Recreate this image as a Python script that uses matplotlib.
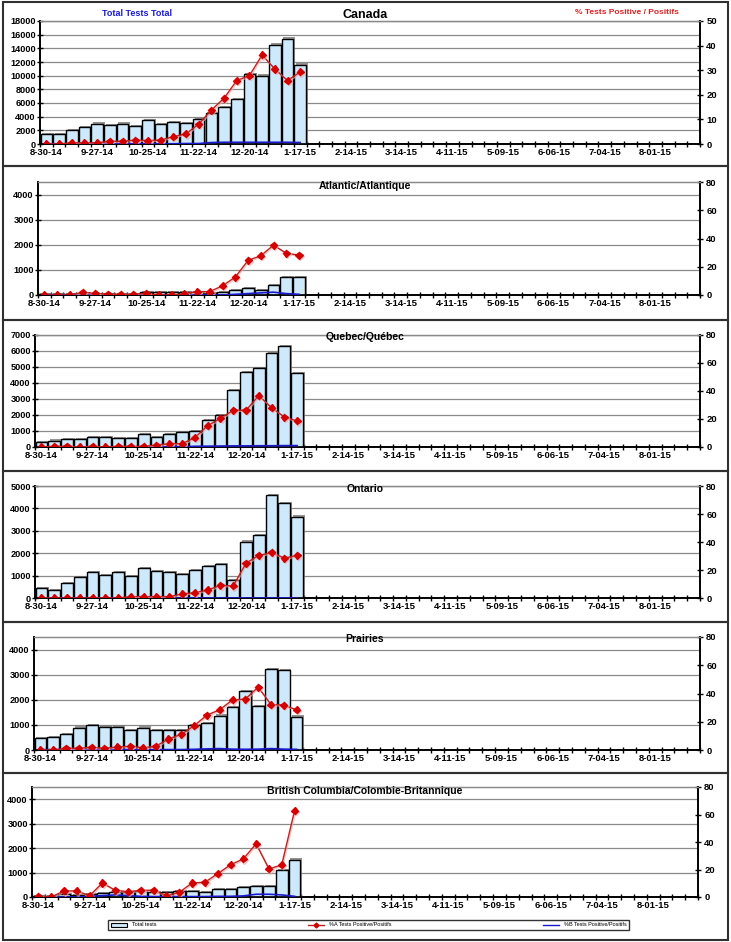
import matplotlib
matplotlib.use("Agg")
import matplotlib.pyplot as plt
import matplotlib.patheffects as pe
from matplotlib.patches import Rectangle, Patch
from matplotlib.lines import Line2D
import numpy as np

plt.rcParams['font.family'] = ['Liberation Sans', 'DejaVu Sans']
plt.rcParams['font.weight'] = 'bold'

# weekly categories, 8-30-14 .. 8-22-15 (52 weeks), labels every 4 weeks
n_weeks = 52
tick_labels = ['8-30-14', '9-27-14', '10-25-14', '11-22-14', '12-20-14', '1-17-15',
               '2-14-15', '3-14-15', '4-11-15', '5-09-15', '6-06-15', '7-04-15', '8-01-15']

regions = ['Canada', 'Atlantic/Atlantique', 'Quebec/Québec', 'Ontario', 'Prairies',
           'British Columbia/Colombie-Britannique']

# total tests (first 21 weeks reported)
canada_tests = [1400, 1400, 2000, 2480, 3000, 2820, 3000, 2680, 3450, 2920, 3160,
                3110, 3650, 4480, 5350, 6570, 10220, 10020, 14550, 15430, 11630]
atlantic_tests = [20, 20, 25, 40, 40, 40, 40, 50, 100, 100, 100,
                  110, 110, 90, 130, 180, 280, 180, 400, 700, 700]
quebec_tests = [330, 400, 520, 520, 625, 625, 583, 583, 790, 625, 833,
                940, 980, 1710, 2000, 3560, 4710, 4920, 5875, 6333, 4600]
ontario_tests = [460, 356, 653, 920, 1142, 1039, 1142, 979, 1320, 1187, 1142,
                 1083, 1231, 1424, 1513, 786, 2522, 2819, 4600, 4258, 3635]
prairies_tests = [467, 507, 627, 893, 1000, 933, 933, 800, 893, 787, 787,
                  787, 987, 1067, 1373, 1707, 2333, 1733, 3240, 3187, 1333]
bc_tests = [55, 55, 110, 80, 110, 165, 220, 220, 250, 220, 190,
            235, 250, 190, 330, 330, 414, 455, 455, 1090, 1530]

# % A tests positive
canada_pos_a = [0, 0, 0.5, 0.5, 0.5, 1.1, 1.1, 1.6, 1.4, 1.6, 3.0,
                4.1, 8.1, 13.8, 18.6, 25.8, 27.8, 36.2, 30.5, 25.8, 29.3]
atlantic_pos_a = [0, 0, 0, 1.9, 1.2, 0.5, 0.5, 0.5, 1.2, 0, 0,
                  0.9, 2.4, 2.4, 6.6, 12.7, 24.5, 27.8, 35.3, 29.6, 28.2]
quebec_pos_a = [0, 0.5, 0.5, 0, 0.5, 0, 0.5, 0.5, 0.5, 1.4, 2.4,
                2.4, 6.7, 15.2, 20.5, 26.2, 26.2, 36.7, 28.1, 21.4, 18.6]
ontario_pos_a = [0, 0, 0, 0, 0, 0, 0, 1, 1, 1, 1,
                 2.9, 3.8, 5.7, 9.0, 8.6, 24.9, 30.4, 32.5, 28.5, 30.4]
prairies_pos_a = [0, 0, 1.2, 1.2, 1.9, 1.2, 2.1, 2.6, 1.6, 2.6, 7.8,
                  11.1, 17.2, 24.7, 28.5, 35.5, 36.0, 44.5, 32.2, 31.8, 28.5]
bc_pos_a = [0.5, 0, 4.4, 4.4, 1.0, 10.2, 4.9, 3.9, 4.9, 4.9, 1.0,
            3.4, 10.2, 10.7, 17.0, 23.4, 27.7, 38.7, 20.4, 23.4, 62.8]

# % B tests positive
canada_pos_b = [0.1, 0.1, 0.1, 0.1, 0.1, 0.1, 0.1, 0.1, 0.1, 0.1, 0.1,
                0.2, 0.2, 0.6, 0.7, 0.7, 0.7, 0.7, 0.7, 0.7, 0.6]
atlantic_pos_b = [0, 0, 0, 0, 0, 0, 0, 0, 0, 0, 0,
                  0, 0, 0, 0, 0.5, 1.0, 1.5, 2.0, 1.0, 0.5]
quebec_pos_b = [0, 0, 0, 0, 0, 0, 0, 0, 0, 0, 0.2,
                0.2, 0.5, 0.6, 0.7, 0.8, 0.8, 0.9, 0.9, 1.0, 1.0]
ontario_pos_b = [0.2, 0.2, 0.2, 0.2, 0.2, 0.2, 0.2, 0.2, 0.2, 0.2, 0.2,
                 0.2, 0.2, 0.2, 0.2, 0.2, 0.2, 0.2, 0.2, 0.2, 0.2]
prairies_pos_b = [0.3, 0.3, 0.3, 0.3, 0.3, 0.3, 0.3, 0.3, 0.3, 0.3, 0.3,
                  0.3, 0.5, 0.8, 1.0, 0.6, 0.5, 0.6, 1.0, 0.6, 0.5]
bc_pos_b = [0, 0, 0, 0, 0.5, 1.0, 1.5, 1.0, 0.5, 0.3, 0.3,
            0.3, 0.3, 0.3, 0.5, 0.5, 0.8, 2.0, 2.0, 1.5, 0.5]

tests = [canada_tests, atlantic_tests, quebec_tests, ontario_tests, prairies_tests, bc_tests]
pos_a = [canada_pos_a, atlantic_pos_a, quebec_pos_a, ontario_pos_a, prairies_pos_a, bc_pos_a]
pos_b = [canada_pos_b, atlantic_pos_b, quebec_pos_b, ontario_pos_b, prairies_pos_b, bc_pos_b]

# axis limits / ticks per panel
left_max = [18000, 4500, 7000, 5000, 4500, 4500]
left_ticks = [np.arange(0, 18001, 2000), np.arange(0, 4001, 1000), np.arange(0, 7001, 1000),
              np.arange(0, 5001, 1000), np.arange(0, 4001, 1000), np.arange(0, 4001, 1000)]
right_max = [50, 80, 80, 80, 80, 80]
right_step = [10, 20, 20, 20, 20, 20]

# plot areas in pixels (left, top, right, bottom) and panel frames (top, bottom)
W, H = 731, 942
areas = [(40, 21, 700, 144), (38, 182, 700, 295), (35, 335, 700, 447),
         (35, 486, 700, 598), (34, 637, 700, 750), (32, 787, 698, 897)]
frames = [(2, 166), (166, 320), (320, 471), (471, 622), (622, 773), (773, 940)]
title_y = [15, 186, 337, 489, 639, 791]

fig = plt.figure(figsize=(W / 100, H / 100), dpi=100)

bar_color = '#cde9fb'
red = '#d40000'
blue = '#1a1acc'

x_all = np.arange(n_weeks)

for i in range(6):
    l, t, r, b = areas[i]
    ax = fig.add_axes([l / W, 1 - b / H, (r - l) / W, (b - t) / H])
    ax2 = ax.twinx()
    ax.set_zorder(1)
    ax2.set_zorder(2)
    ax2.patch.set_visible(False)

    x = np.arange(len(tests[i]))
    bars = ax.bar(x, tests[i], width=0.92, color=bar_color, edgecolor='black', linewidth=1.0, zorder=3)
    for bar in bars:
        bar.set_path_effects([pe.SimplePatchShadow(offset=(1.3, 0.8), shadow_rgbFace='#787878', alpha=0.8),
                              pe.Normal()])

    ax2.plot(x, pos_b[i], color=blue, linewidth=1.2, zorder=4)
    ax2.plot(x, pos_a[i], color='#c02020', linewidth=1.0, marker='D', markersize=3.6,
             markerfacecolor=red, markeredgecolor=red, zorder=5,
             path_effects=[pe.SimpleLineShadow(offset=(0.8, -0.8), shadow_color='#f0a8a8', alpha=0.7),
                           pe.Normal()])

    ax.set_xlim(-0.5, n_weeks - 0.5)
    ax.set_ylim(0, left_max[i])
    ax2.set_ylim(0, right_max[i])
    ax.set_yticks(left_ticks[i])
    ax2.set_yticks(np.arange(0, right_max[i] + 1, right_step[i]))

    ax.set_xticks(x_all[::4])
    ax.set_xticklabels(tick_labels)
    ax.set_xticks(np.arange(n_weeks + 1) - 0.5, minor=True)
    ax.tick_params(axis='x', which='major', length=0, pad=3, labelsize=6.8)
    ax.tick_params(axis='x', which='minor', direction='inout', length=5, width=1)
    ax.tick_params(axis='y', direction='inout', length=4, width=1, labelsize=6.6, pad=1)
    ax2.tick_params(axis='y', direction='inout', length=5, width=1, labelsize=6.8, pad=2)

    ax.yaxis.grid(True, color='#8a8a8a', linewidth=0.9)
    ax.set_axisbelow(True)

    for a in (ax, ax2):
        a.spines['top'].set_color('#8a8a8a')
        a.spines['top'].set_linewidth(0.9)
        a.spines['left'].set_linewidth(1.2)
        a.spines['right'].set_linewidth(1.2)
        a.spines['bottom'].set_linewidth(1.2)

    fig.text(365 / W, 1 - title_y[i] / H, regions[i], ha='center', va='center',
             fontsize=9 if i == 0 else 7.5, fontweight='bold', zorder=10)

    ft, fb = frames[i]
    fig.add_artist(Rectangle((3 / W, 1 - fb / H), 725 / W, (fb - ft) / H, transform=fig.transFigure,
                             fill=False, edgecolor='#303030', linewidth=1.5))

fig.text(137 / W, 1 - 14 / H, 'Total Tests Total', color='#1a1ae0', fontsize=6.5,
         fontweight='bold', ha='center', va='center')
fig.text(627 / W, 1 - 13 / H, '% Tests Positive / Positifs', color='#e02020', fontsize=6,
         fontweight='bold', ha='center', va='center')

handles = [Patch(facecolor=bar_color, edgecolor='black', linewidth=0.8),
           Line2D([], [], color='#c02020', marker='D', markersize=2.5, markerfacecolor=red,
                  markeredgecolor=red, linewidth=1),
           Line2D([], [], color=blue, linewidth=1)]
labels = ['Total tests', '%A Tests Positive/Positifs', '%B Tests Positive/Positifs']
leg = fig.legend(handles, labels, loc='center', ncol=3,
                 bbox_to_anchor=(105 / W, 1 - 934 / H, 527 / W, 18 / H), mode='expand',
                 frameon=True, fancybox=False, edgecolor='black', borderpad=0.5,
                 handlelength=3, prop={'size': 4, 'weight': 'normal'})
leg.get_frame().set_linewidth(1.0)

fig.savefig('out.png', dpi=100)
